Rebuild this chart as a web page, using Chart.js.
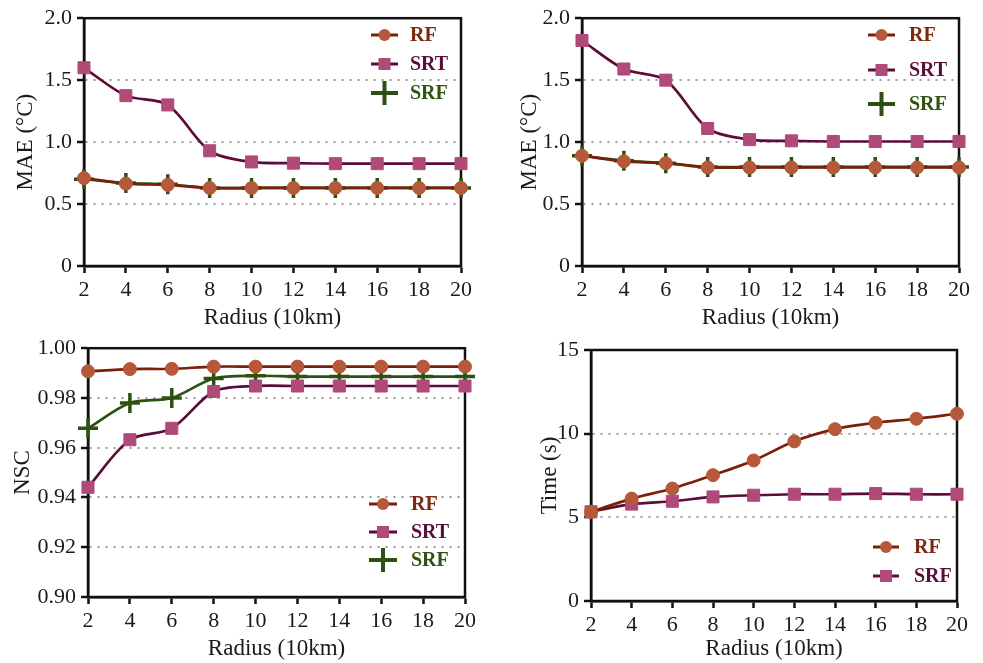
<!DOCTYPE html>
<html>
<head>
<meta charset="utf-8">
<script src="https://cdn.jsdelivr.net/npm/chart.js@4/dist/chart.umd.min.js"></script>
<style>
  body { margin: 0; background: #fff; }
  #wrap { position: relative; width: 983px; height: 663px; }
  canvas { position: absolute; }
</style>
</head>
<body>
<div id="wrap">
  <canvas id="c1" width="490" height="330" style="left:0;top:0"></canvas>
  <canvas id="c2" width="493" height="330" style="left:490px;top:0"></canvas>
  <canvas id="c3" width="490" height="333" style="left:0;top:330px"></canvas>
  <canvas id="c4" width="493" height="333" style="left:490px;top:330px"></canvas>
</div>
<script>
// radius categories (10km)
var radius = ['2', '4', '6', '8', '10', '12', '14', '16', '18', '20'];

// MAE, left panel
var maeA_RF  = [0.71, 0.665, 0.655, 0.63, 0.63, 0.63, 0.63, 0.63, 0.63, 0.63];
var maeA_SRT = [1.60, 1.375, 1.30, 0.93, 0.84, 0.83, 0.826, 0.826, 0.826, 0.826];
var maeA_SRF = [0.70, 0.67, 0.66, 0.63, 0.63, 0.63, 0.63, 0.63, 0.63, 0.63];

// MAE, right panel
var maeB_RF  = [0.89, 0.845, 0.83, 0.795, 0.795, 0.795, 0.795, 0.795, 0.795, 0.795];
var maeB_SRT = [1.82, 1.59, 1.50, 1.11, 1.02, 1.01, 1.005, 1.005, 1.005, 1.005];
var maeB_SRF = [0.89, 0.85, 0.83, 0.80, 0.80, 0.80, 0.80, 0.80, 0.80, 0.80];

// NSC
var nsc_RF  = [0.9907, 0.9916, 0.9917, 0.9926, 0.9926, 0.9926, 0.9926, 0.9926, 0.9926, 0.9926];
var nsc_SRT = [0.9441, 0.9632, 0.9678, 0.9826, 0.9848, 0.9848, 0.9848, 0.9848, 0.9848, 0.9848];
var nsc_SRF = [0.9678, 0.9780, 0.9800, 0.9878, 0.9889, 0.9886, 0.9886, 0.9886, 0.9886, 0.9886];

// time (s)
var time_RF  = [5.33, 6.12, 6.72, 7.52, 8.40, 9.54, 10.27, 10.65, 10.89, 11.19];
var time_SRF = [5.33, 5.79, 5.96, 6.22, 6.32, 6.38, 6.38, 6.42, 6.38, 6.38];

var SERIF = "'Liberation Serif', 'Times New Roman', serif";

var styleRF  = { line: '#7a1f08', mark: '#b5593a', text: '#7a2a0e', shape: 'circle' };
var styleSRT = { line: '#5c0c36', mark: '#b04a78', text: '#5a0f38', shape: 'rect' };
var styleSRF = { line: '#2b5212', mark: '#2b5212', text: '#2e5410', shape: 'cross' };

function makeSet(label, data, st) {
    var ds = {
        label: label,
        data: data,
        borderColor: st.line,
        backgroundColor: st.mark,
        borderWidth: 2.7,
        tension: 0.3,
        clip: false,
        pointStyle: st.shape,
        pointBackgroundColor: st.mark,
        pointBorderColor: st.mark,
        pointBorderWidth: 1,
        pointRadius: 6.5
    };
    if (st.shape == 'rect') {
        ds.pointRadius = 8.5;
    }
    if (st.shape == 'cross') {
        ds.pointRadius = 10;
        ds.pointBorderWidth = 3.5;
        ds.pointBorderColor = st.line;
    }
    ds.legendText = st.text;
    return ds;
}

// frame around the plot area
var framePlugin = {
    id: 'frame',
    beforeDatasetsDraw: function(chart) {
        var a = chart.chartArea, ctx = chart.ctx;
        ctx.save();
        ctx.strokeStyle = '#111';
        ctx.lineWidth = 2.5;
        ctx.strokeRect(a.left, a.top, a.right - a.left, a.bottom - a.top);
        ctx.restore();
    }
};

// legend drawn inside the plot (line + marker + coloured label)
var inLegendPlugin = {
    id: 'inLegend',
    afterDatasetsDraw: function(chart, args, opts) {
        var ctx = chart.ctx;
        ctx.save();
        chart.data.datasets.forEach(function(ds, i) {
            var y = opts.ys[i];
            ctx.strokeStyle = ds.borderColor;
            ctx.lineWidth = 3;
            ctx.beginPath();
            ctx.moveTo(opts.x0, y);
            ctx.lineTo(opts.x1, y);
            ctx.stroke();
            var cx = (opts.x0 + opts.x1) / 2;
            ctx.fillStyle = ds.pointBackgroundColor;
            if (ds.pointStyle == 'circle') {
                ctx.beginPath();
                ctx.arc(cx, y, 6, 0, Math.PI * 2);
                ctx.fill();
            } else if (ds.pointStyle == 'rect') {
                ctx.fillRect(cx - 6, y - 6, 12, 12);
            } else {
                ctx.strokeStyle = ds.pointBorderColor;
                ctx.lineWidth = 4;
                ctx.beginPath();
                ctx.moveTo(opts.x0, y);
                ctx.lineTo(opts.x1, y);
                ctx.moveTo(cx, y - 12);
                ctx.lineTo(cx, y + 12);
                ctx.stroke();
            }
            ctx.fillStyle = ds.legendText;
            ctx.font = 'bold 20px ' + SERIF;
            ctx.textAlign = 'left';
            ctx.textBaseline = 'middle';
            ctx.fillText(ds.label, opts.tx, y + 1);
        });
        ctx.restore();
    }
};

function makeChart(id, p) {
    var ctx = document.getElementById(id).getContext('2d');
    return new Chart(ctx, {
        type: 'line',
        data: { labels: radius, datasets: p.datasets },
        plugins: [framePlugin, inLegendPlugin],
        options: {
            responsive: false,
            animation: false,
            devicePixelRatio: 1,
            layout: { padding: { left: 0, top: p.top, right: p.right, bottom: 0 } },
            plugins: {
                legend: { display: false },
                tooltip: { enabled: false },
                inLegend: p.legend
            },
            scales: {
                x: {
                    afterFit: function(s) { s.height = p.xh; },
                    grid: { drawOnChartArea: false, drawTicks: true, tickLength: 7, tickWidth: 2.5, tickColor: '#111' },
                    border: { color: '#111', width: 2.5 },
                    ticks: { color: '#1a1a1a', font: { family: SERIF, size: 22 }, padding: 4, maxRotation: 0, autoSkip: false },
                    title: { display: true, text: 'Radius (10km)', color: '#1a1a1a',
                             font: { family: SERIF, size: 23, lineHeight: 1 }, padding: { top: 0, bottom: p.xtb } }
                },
                y: {
                    min: p.min, max: p.max,
                    afterFit: function(s) { s.width = p.yw; },
                    grid: {
                        lineWidth: 2,
                        color: function(c) { return p.grid.indexOf(+c.tick.value.toFixed(3)) >= 0 ? '#9a9a9a' : 'rgba(0,0,0,0)'; },
                        tickLength: 7, tickWidth: 2.5, tickColor: '#111', tickBorderDash: []
                    },
                    border: { color: '#111', width: 2.5, dash: [2, 6] },
                    ticks: { stepSize: p.step, color: '#1a1a1a', font: { family: SERIF, size: 22 }, padding: 5, callback: p.fmt },
                    title: { display: true, text: p.ytitle, color: '#1a1a1a',
                             font: { family: SERIF, size: 23, lineHeight: 1 }, padding: { top: p.ytp, bottom: 0 } }
                }
            }
        }
    });
}

function fmtMae(v) { return v === 0 ? '0' : v.toFixed(1); }

makeChart('c1', {
    datasets: [makeSet('RF', maeA_RF, styleRF), makeSet('SRT', maeA_SRT, styleSRT), makeSet('SRF', maeA_SRF, styleSRF)],
    top: 15, right: 29, xh: 64, yw: 84, xtb: 1, ytp: 14,
    min: 0, max: 2, step: 0.5, grid: [0.5, 1, 1.5], fmt: fmtMae, ytitle: 'MAE (°C)',
    legend: { x0: 371, x1: 398, tx: 410, ys: [35, 64, 93] }
});

makeChart('c2', {
    datasets: [makeSet('RF', maeB_RF, styleRF), makeSet('SRT', maeB_SRT, styleSRT), makeSet('SRF', maeB_SRF, styleSRF)],
    top: 15, right: 24, xh: 64, yw: 92, xtb: 1, ytp: 28,
    min: 0, max: 2, step: 0.5, grid: [0.5, 1, 1.5], fmt: fmtMae, ytitle: 'MAE (°C)',
    legend: { x0: 378, x1: 405, tx: 419, ys: [35, 70, 104] }
});

makeChart('c3', {
    datasets: [makeSet('RF', nsc_RF, styleRF), makeSet('SRT', nsc_SRT, styleSRT), makeSet('SRF', nsc_SRF, styleSRF)],
    top: 16, right: 25, xh: 66, yw: 88, xtb: 3, ytp: 11,
    min: 0.9, max: 1.0, step: 0.02, grid: [0.92, 0.94, 0.96, 0.98], fmt: function(v) { return v.toFixed(2); }, ytitle: 'NSC',
    legend: { x0: 369, x1: 397, tx: 411, ys: [174, 202, 230] }
});

makeChart('c4', {
    datasets: [makeSet('RF', time_RF, styleRF), makeSet('SRF', time_SRF, styleSRT)],
    top: 20, right: 26, xh: 62, yw: 101, xtb: 3, ytp: 48,
    min: 0, max: 15, step: 5, grid: [5, 10], fmt: function(v) { return String(v); }, ytitle: 'Time (s)',
    legend: { x0: 383, x1: 409, tx: 424, ys: [217, 246] }
});
</script>
</body>
</html>
